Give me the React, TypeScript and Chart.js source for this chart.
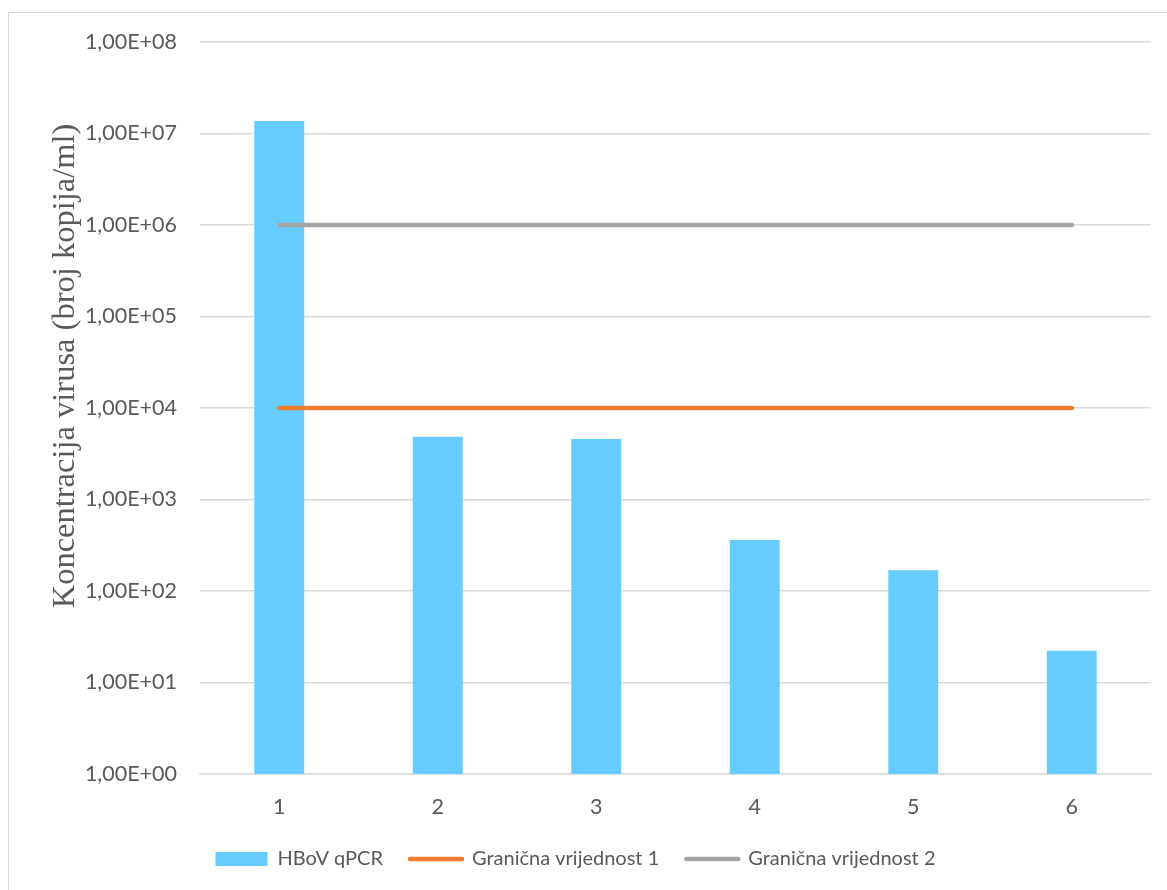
import React, { useEffect, useRef } from "react";
import { Chart, registerables } from "chart.js";

Chart.register(...registerables);

const categories = ["1", "2", "3", "4", "5", "6"];
const hbovQpcr = [13700000, 4850, 4570, 362, 169, 22.2];
const granicna1 = [10000, 10000, 10000, 10000, 10000, 10000];
const granicna2 = [1000000, 1000000, 1000000, 1000000, 1000000, 1000000];
const yTickValues = [1, 10, 100, 1000, 10000, 100000, 1000000, 10000000, 100000000];
const seriesNames = ["HBoV qPCR", "Granična vrijednost 1", "Granična vrijednost 2"];
const yTitle = "Koncentracija virusa (broj kopija/ml)";

const SANS = "Lato, 'Open Sans', sans-serif";
const TICK_COLOR = "#595959";

const framePlugin = {
  id: "frameAndTitle",
  beforeDraw(chart: any) {
    const ctx = chart.ctx;
    ctx.save();
    ctx.fillStyle = "#ffffff";
    ctx.fillRect(0, 0, chart.width, chart.height);
    ctx.strokeStyle = "#d9d9d9";
    ctx.lineWidth = 1;
    ctx.beginPath();
    ctx.moveTo(8.5, chart.height);
    ctx.lineTo(8.5, 12.5);
    ctx.lineTo(chart.width, 12.5);
    ctx.stroke();
    ctx.restore();
  },
  afterDraw(chart: any) {
    const ctx = chart.ctx;
    ctx.save();
    ctx.translate(65, 366);
    ctx.rotate(-Math.PI / 2);
    ctx.font = "32.5px 'Liberation Serif', 'Times New Roman', serif";
    ctx.fillStyle = TICK_COLOR;
    ctx.textAlign = "center";
    ctx.textBaseline = "middle";
    ctx.fillText(yTitle, 0, 0);
    ctx.restore();
  },
};

export default function App() {
  const canvasRef = useRef<HTMLCanvasElement | null>(null);

  useEffect(() => {
    if (!canvasRef.current) return;
    const chart = new Chart(canvasRef.current, {
      type: "bar",
      data: {
        labels: categories,
        datasets: [
          {
            type: "bar",
            label: seriesNames[0],
            data: hbovQpcr,
            backgroundColor: "#66CCFF",
            borderWidth: 0,
            barPercentage: 0.315,
            categoryPercentage: 1,
            order: 2,
          },
          {
            type: "line",
            label: seriesNames[1],
            data: granicna1,
            borderColor: "#ED7D31",
            backgroundColor: "#ED7D31",
            borderWidth: 4.5,
            pointRadius: 0,
            pointStyle: "line",
            borderCapStyle: "round",
            order: 1,
          },
          {
            type: "line",
            label: seriesNames[2],
            data: granicna2,
            borderColor: "#A5A5A5",
            backgroundColor: "#A5A5A5",
            borderWidth: 4.5,
            pointRadius: 0,
            pointStyle: "line",
            borderCapStyle: "round",
            order: 1,
          },
        ],
      } as any,
      options: {
        animation: false,
        responsive: false,
        maintainAspectRatio: false,
        layout: { padding: { left: 0, right: 16, top: 42, bottom: 11 } },
        plugins: {
          tooltip: { enabled: false },
          legend: {
            position: "bottom",
            labels: {
              usePointStyle: true,
              pointStyleWidth: 52,
              boxHeight: 14,
              padding: 27,
              color: TICK_COLOR,
              font: { family: SANS, size: 20 },
              sort: (a: any, b: any) => a.datasetIndex - b.datasetIndex,
              generateLabels(c: any) {
                const items = Chart.defaults.plugins.legend.labels.generateLabels(c);
                return items.map((it: any) => {
                  const ds = c.data.datasets[it.datasetIndex];
                  if (it.datasetIndex === 0) {
                    it.pointStyle = "rect";
                    it.fillStyle = ds.backgroundColor;
                    it.strokeStyle = ds.backgroundColor;
                    it.lineWidth = 0;
                  } else {
                    it.pointStyle = "line";
                    it.fillStyle = ds.borderColor;
                    it.strokeStyle = ds.borderColor;
                    it.lineWidth = 4.5;
                    it.lineCap = "round";
                  }
                  return it;
                });
              },
            },
          },
        },
        scales: {
          x: {
            type: "category",
            grid: { display: false, drawTicks: false },
            border: { display: true, color: "#d9d9d9", width: 1.5 },
            ticks: {
              color: TICK_COLOR,
              font: { family: SANS, size: 21.5 },
              padding: 20,
            },
            afterFit(scale: any) {
              scale.height = 48;
            },
          },
          y: {
            type: "logarithmic",
            min: 1,
            max: 100000000,
            grid: { color: "#d9d9d9", lineWidth: 1.5, drawTicks: false },
            border: { display: false },
            ticks: {
              color: TICK_COLOR,
              font: { family: SANS, size: 21.5 },
              padding: 23,
              autoSkip: false,
              callback(value: any) {
                const e = Math.round(Math.log10(Number(value)));
                return "1,00E+" + String(e).padStart(2, "0");
              },
            },
            afterBuildTicks(scale: any) {
              scale.ticks = yTickValues.map((v) => ({ value: v, major: true }));
            },
            afterFit(scale: any) {
              scale.width = 200;
            },
          },
        },
      } as any,
      plugins: [framePlugin],
    });
    return () => chart.destroy();
  }, []);

  return (
    <div style={{ position: "absolute", left: 0, top: 0, width: 1167, height: 890 }}>
      <canvas ref={canvasRef} width={1167} height={890} style={{ display: "block" }} />
    </div>
  );
}
